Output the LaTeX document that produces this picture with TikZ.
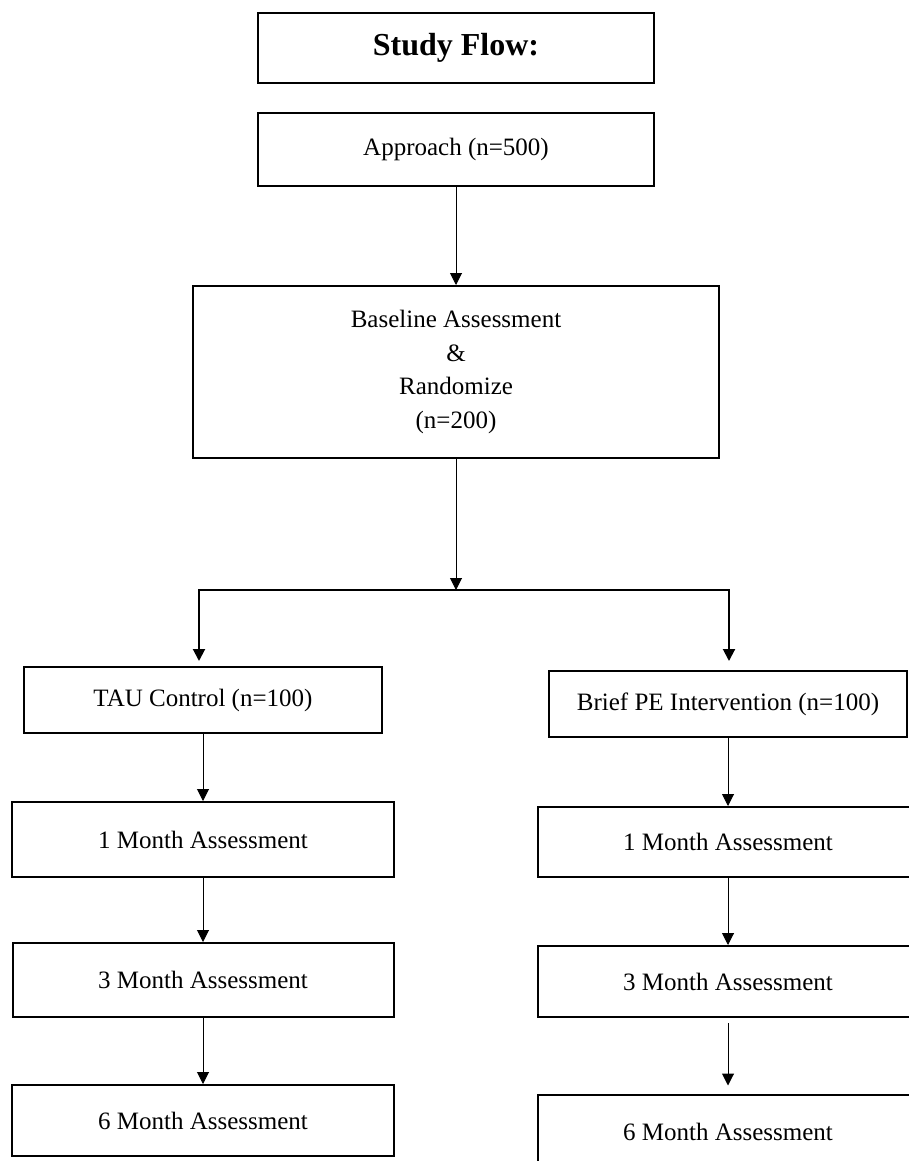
\documentclass[tikz,border=0pt]{standalone}
\usepackage{fontspec}
\setmainfont{Liberation Serif}
\usetikzlibrary{arrows.meta}

\tikzset{
  box/.style={draw, line width=2pt, inner sep=0pt, align=center,
    font=\fontsize{25}{33.6}\selectfont},
}

\begin{document}
\begin{tikzpicture}[x=1pt, y=-1pt, line width=1pt, >={Triangle[length=12pt,width=12pt]}]

    \useasboundingbox (0,0) rectangle (908,1161);

    \node[box, minimum width=396pt, minimum height=70pt, font=\fontsize{32}{38}\selectfont\bfseries] (a) at (456, 48) {Study Flow:};
    \node[box, minimum width=396pt, minimum height=73pt] (b) at (456, 149.5) {Approach (n=500)};
    \node[box, minimum width=526pt, minimum height=172pt] (c) at (456, 372) {Baseline Assessment\\\&\\Randomize\\(n=200)};
    \node[box, minimum width=358pt, minimum height=66pt] (d) at (203, 700) {TAU Control (n=100)};
    \node[box, minimum width=358pt, minimum height=66pt] (e) at (728, 704) {Brief PE Intervention (n=100)};
    \node[box, minimum width=382pt, minimum height=75pt] (f) at (203, 839.5) {1 Month Assessment};
    \node[box, minimum width=380pt, minimum height=70pt] (g) at (728, 842) {1 Month Assessment};
    \node[box, minimum width=381pt, minimum height=74pt] (h) at (203, 980) {3 Month Assessment};
    \node[box, minimum width=380pt, minimum height=71pt] (i) at (728, 981.5) {3 Month Assessment};
    \node[box, minimum width=382pt, minimum height=71pt] (j) at (203, 1120.5) {6 Month Assessment};
    \node[box, minimum width=380pt, minimum height=75pt] (k) at (728, 1132) {6 Month Assessment};

    \coordinate (m) at (456, 590);
    \coordinate (l) at (199, 590);
    \coordinate (r) at (729, 590);

    \draw [->] (b) to (c);
    \draw [->] (c) to (m);
    \draw [->, line width=2pt, shorten >=5pt] (m) -| (l |- d.north);
    \draw [->, line width=2pt, shorten >=9pt] (m) -| (r |- e.north);
    \draw [->] (d) to (f);
    \draw [->] (f) to (h);
    \draw [->] (h) to (j);
    \draw [->] (e) to (g);
    \draw [->] (g) to (i);
    \draw [->, shorten <=5pt, shorten >=8pt] (i) to (k);

\end{tikzpicture}
\end{document}
